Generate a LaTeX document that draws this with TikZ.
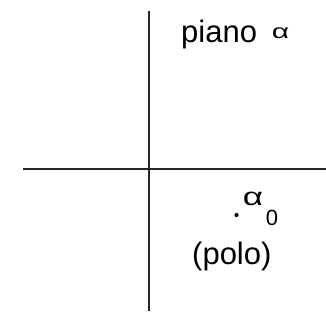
\documentclass[tikz,border=0pt]{standalone}
\usepackage{fontspec}
\setmainfont{Liberation Sans}
\usetikzlibrary{positioning}

\tikzset{
  axis/.style={line width=1.6pt, black!85},
  lbl/.style={inner sep=0pt, anchor=base west},
}

\begin{document}
\begin{tikzpicture}[x=1pt, y=-1pt]
  \useasboundingbox (0,0) rectangle (326,321);

  % assi del piano
  \coordinate (xl) at (23,169);
  \coordinate (xr) at (326,169);
  \coordinate (yt) at (149,11);
  \coordinate (yb) at (149,311);
  \draw[axis] (xl) -- (xr);
  \draw[axis] (yt) -- (yb);

  % etichetta del piano
  \node[lbl, font=\fontsize{31}{31}\selectfont] (piano) at (181,43) {piano};
  \node[inner sep=0pt, xscale=1.5, font=\fontsize{20}{20}\selectfont] (alfa) at (280.5,33) {α};

  % polo
  \fill (236.5,215) circle (2.1) coordinate (polo);
  \node[inner sep=0pt, xscale=1.4, font=\fontsize{25}{25}\selectfont] (a0) at (253,199) {α};
  \node[inner sep=0pt, font=\fontsize{22}{22}\selectfont] (zero) at (272,218) {0};
  \node[lbl, font=\fontsize{31}{31}\selectfont] (polol) at (192,264) {(polo)};
\end{tikzpicture}
\end{document}
